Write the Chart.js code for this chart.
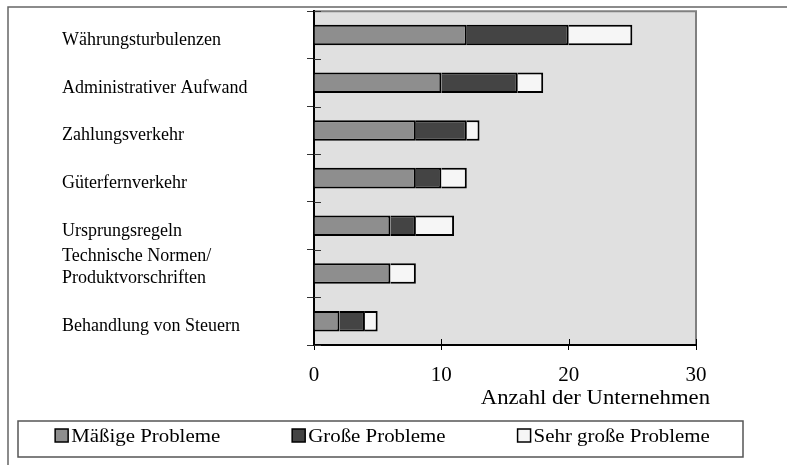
<!DOCTYPE html>
<html>
<head>
<meta charset="utf-8">
<script src="https://cdn.jsdelivr.net/npm/chart.js@4"></script>
<style>
  html, body { margin: 0; padding: 0; background: #fff; }
  #wrap { width: 787px; height: 465px; }
</style>
</head>
<body>
<div id="wrap"><canvas id="c" width="787" height="465"></canvas></div>
<script>
// Problem areas (top to bottom); the empty trailing line keeps the two-line label balanced
const categories = [
  'Währungsturbulenzen',
  'Administrativer Aufwand',
  'Zahlungsverkehr',
  'Güterfernverkehr',
  'Ursprungsregeln',
  ['Technische Normen/', 'Produktvorschriften', ''],
  'Behandlung von Steuern'
];
const maessigeProbleme = [12, 10, 8, 8, 6, 6, 2];
const grosseProbleme   = [8, 6, 4, 2, 2, 0, 2];
const sehrGrosseProbleme = [5, 2, 1, 2, 3, 2, 1];
const seriesNames = ['Mäßige Probleme', 'Große Probleme', 'Sehr große Probleme'];
const xTickValues = [0, 10, 20, 30];
const axisTitle = 'Anzahl der Unternehmen';

const SERIF = '"Liberation Serif", "Times New Roman", serif';
const seriesColors = ['#8e8e8e', '#444444', '#f6f6f6'];

// draws text stretched horizontally by sx, anchored at its left edge
function wideText(ctx, text, x, y, sx) {
  ctx.save();
  ctx.translate(x, y);
  ctx.scale(sx, 1);
  ctx.textAlign = 'left';
  ctx.fillText(text, 0, 0);
  ctx.restore();
}

// Frame, plot background, inner tick halves, axis title and boxed legend
const decor = {
  id: 'decor',
  beforeDraw(chart) {
    const { ctx, chartArea: a } = chart;
    ctx.save();
    ctx.fillStyle = '#fff';
    ctx.fillRect(0, 0, chart.width, chart.height);
    ctx.strokeStyle = '#666';
    ctx.lineWidth = 1.5;
    ctx.beginPath();
    ctx.moveTo(8, chart.height);
    ctx.lineTo(8, 7);
    ctx.lineTo(chart.width, 7);
    ctx.stroke();
    ctx.fillStyle = '#e0e0e0';
    ctx.fillRect(a.left, a.top, a.right - a.left, a.bottom - a.top);
    ctx.strokeStyle = '#808080';
    ctx.lineWidth = 2;
    ctx.beginPath();
    ctx.moveTo(a.left, a.top);
    ctx.lineTo(a.right, a.top);
    ctx.lineTo(a.right, a.bottom);
    ctx.stroke();
    ctx.restore();
  },
  afterDraw(chart) {
    const { ctx, chartArea: a, scales } = chart;
    const y = scales.y, x = scales.x;
    ctx.save();
    // tick marks reaching into the plot
    ctx.strokeStyle = '#333';
    ctx.lineWidth = 1;
    for (let i = 0; i <= categories.length; i++) {
      const py = Math.round(y.getPixelForValue(i - 0.5)) + 0.5;
      ctx.beginPath();
      ctx.moveTo(a.left, py);
      ctx.lineTo(a.left + 7, py);
      ctx.stroke();
    }
    ctx.strokeStyle = '#000';
    xTickValues.forEach(v => {
      const px = Math.round(x.getPixelForValue(v)) + 0.5;
      ctx.beginPath();
      ctx.moveTo(px, a.bottom);
      ctx.lineTo(px, a.bottom - 6);
      ctx.stroke();
    });
    // axis title, right edge just past the last tick
    ctx.fillStyle = '#000';
    ctx.textBaseline = 'alphabetic';
    ctx.font = '21px ' + SERIF;
    const titleScale = 1.08;
    const tw = ctx.measureText(axisTitle).width * titleScale;
    wideText(ctx, axisTitle, a.right + 14 - tw, 404, titleScale);
    // legend
    ctx.strokeStyle = '#555';
    ctx.lineWidth = 1.5;
    ctx.strokeRect(18, 421, 725, 36);
    ctx.font = '18px ' + SERIF;
    const legScale = 1.16;
    const box = 13, gap = 3, itemGap = 72;
    const items = chart.data.datasets.map(ds => ({
      label: ds.label, color: ds.backgroundColor,
      w: box + gap + ctx.measureText(ds.label).width * legScale
    }));
    const total = items.reduce((s, it) => s + it.w, 0) + itemGap * (items.length - 1);
    let cx = 382.5 - total / 2;
    items.forEach(it => {
      ctx.fillStyle = it.color;
      ctx.fillRect(cx, 429, box, box);
      ctx.strokeStyle = '#000';
      ctx.lineWidth = 1.5;
      ctx.strokeRect(cx, 429, box, box);
      ctx.fillStyle = '#000';
      wideText(ctx, it.label, cx + box + gap, 442, legScale);
      cx += it.w + itemGap;
    });
    ctx.restore();
  }
};

const seriesData = [maessigeProbleme, grosseProbleme, sehrGrosseProbleme];

new Chart(document.getElementById('c'), {
  type: 'bar',
  data: {
    labels: categories,
    datasets: seriesData.map((d, i) => ({
      label: seriesNames[i],
      data: d,
      backgroundColor: seriesColors[i],
      borderColor: '#000',
      borderWidth: 2,
      borderSkipped: 'start',
      categoryPercentage: 1,
      barPercentage: 0.43
    }))
  },
  options: {
    indexAxis: 'y',
    responsive: false,
    animation: false,
    devicePixelRatio: 1,
    layout: { padding: { left: 62, right: 91, top: 9, bottom: 0 } },
    plugins: {
      legend: { display: false },
      tooltip: { enabled: false }
    },
    scales: {
      y: {
        stacked: true,
        afterFit(scale) { scale.width = 252; },
        grid: { drawOnChartArea: false, drawTicks: true, tickLength: 7, color: '#333', lineWidth: 1 },
        border: { display: true, color: '#000', width: 2 },
        ticks: {
          autoSkip: false,
          crossAlign: 'far',
          labelOffset: 5,
          color: '#000',
          padding: 0,
          font: { family: SERIF, size: 18, lineHeight: 1.25 }
        }
      },
      x: {
        stacked: true,
        min: 0,
        max: 30,
        afterFit(scale) { scale.height = 120; },
        afterBuildTicks(scale) { scale.ticks = xTickValues.map(v => ({ value: v })); },
        grid: { drawOnChartArea: false, drawTicks: true, tickLength: 5, color: '#000', lineWidth: 1 },
        border: { display: true, color: '#000', width: 2 },
        ticks: {
          autoSkip: false,
          color: '#000',
          padding: 13,
          font: { family: SERIF, size: 21 }
        }
      }
    }
  },
  plugins: [decor]
});
</script>
</body>
</html>
